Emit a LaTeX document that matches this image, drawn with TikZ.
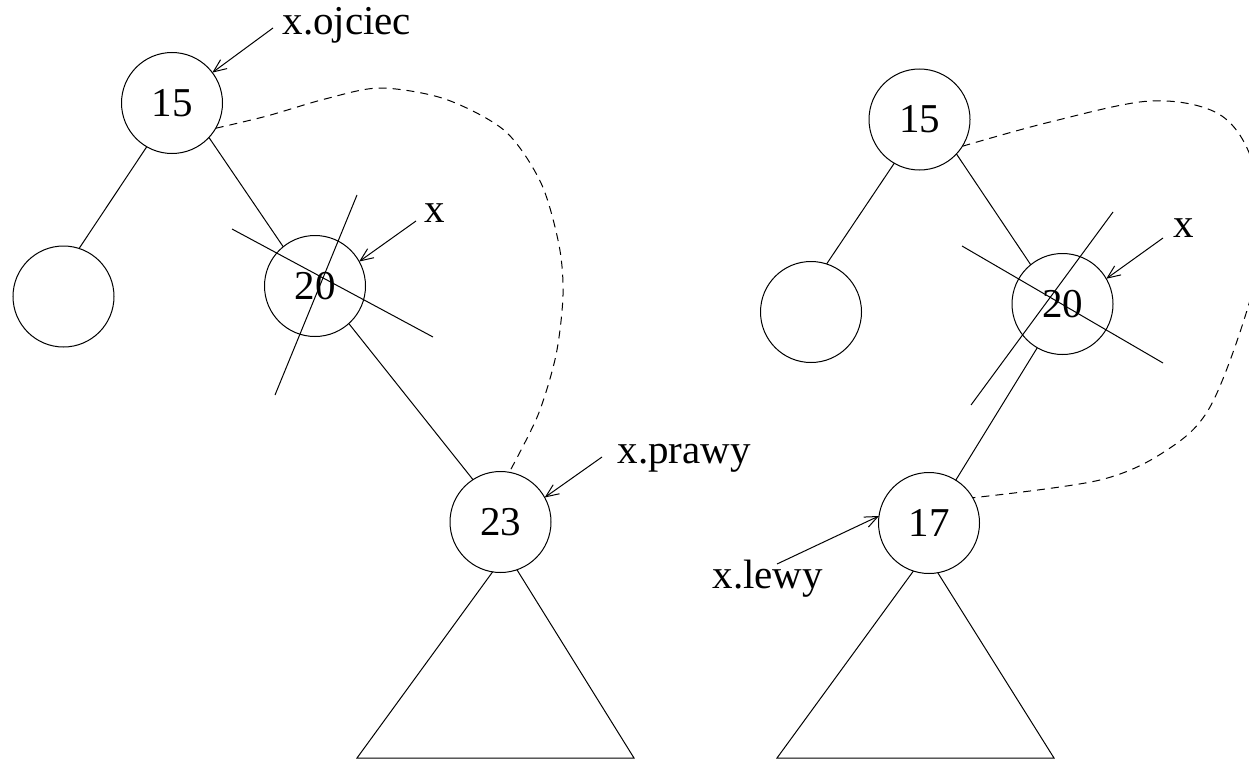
\documentclass[tikz,border=0pt]{standalone}
\usepackage{fontspec}
\setmainfont{Liberation Serif}
\usetikzlibrary{arrows.meta}
\tikzset{
  treenode/.style={circle, draw, minimum size=101pt, inner sep=0pt, outer sep=0pt,
                   font=\fontsize{41}{41}\selectfont},
  tag/.style={anchor=base west, inner sep=0pt, font=\fontsize{41}{41}\selectfont},
  pointer/.style={-{Straight Barb[length=13pt,width=11pt,line width=1pt]}},
  link/.style={dash pattern=on 8pt off 6pt},
}
\begin{document}
\begin{tikzpicture}[x=1pt, y=-1pt, line width=1pt]
\useasboundingbox (0,0) rectangle (1249,760);
\begin{scope}
\clip (0,0) rectangle (1249,760);

% ---------- left tree: before deletion ----------
\node[treenode] (a15) at (172,103) {15};
\node[treenode] (aL)  at (63.5,296.5) {};
\node[treenode] (a20) at (315,286) {20};
\node[treenode] (a23) at (500.5,522) {23};

\draw (a15.240) -- (aL.72);
\draw (a15.317) -- (a20.129);
\draw (a20.312) -- (a23.123);

% crossed-out node 20
\draw (232,229) -- (433,337);
\draw (357,195) -- (275,395);

% subtree under 23
\coordinate (aBL) at (357,758);
\coordinate (aBR) at (634,758);
\draw (a23.261) -- (aBL) -- (aBR) -- (a23.289);

% new link 15 -> 23
\draw[link] plot[smooth, tension=0.5] coordinates
  {(a15.330) (267,116) (325,99) (380,88) (445,99) (505,131) (541,183) (559,245)
   (563,295) (556,355) (538,415) (a23.80)};

% labels and pointers
\node[tag] (lojc) at (282,35) {x.ojciec};
\coordinate (tojc) at (273,28);
\draw[pointer] (tojc) -- (a15.37);

\node[tag] (lx1) at (424,222) {x};
\coordinate (tx1) at (416,221);
\draw[pointer] (tx1) -- (a20.29);

\node[tag] (lpr) at (617,463) {x.prawy};
\coordinate (tpr) at (602,457);
\draw[pointer] (tpr) -- (a23.29);

% ---------- right tree: before deletion ----------
\node[treenode] (b15) at (919.5,119.5) {15};
\node[treenode] (bL)  at (811,312) {};
\node[treenode] (b20) at (1062.5,304) {20};
\node[treenode] (b17) at (929,523) {17};

\draw (b15.240) -- (bL.72);
\draw (b15.317) -- (b20.129);
\draw (b20.240) -- (b17.58);

% crossed-out node 20
\draw (962,246) -- (1163,363);
\draw (1113,212) -- (971,405);

% subtree under 17
\coordinate (bBL) at (777,758);
\coordinate (bBR) at (1054,758);
\draw (b17.252) -- (bBL) -- (bBR) -- (b17.280);

% new link 15 -> 17
\draw[link] plot[smooth, tension=0.55] coordinates
  {(b15.328) (1050,122) (1150,101) (1217,113) (1250,155) (1263,230) (1248,307)
   (1210,407) (1167,450) (1100,480) (b17.30)};

% labels and pointers
\node[tag] (lx2) at (1173,237) {x};
\coordinate (tx2) at (1163,238);
\draw[pointer] (tx2) -- (b20.30);

\node[tag] (llw) at (712,588) {x.lewy};
\coordinate (tlw) at (777,564);
\draw[pointer] (tlw) -- (b17.172);
\end{scope}
\end{tikzpicture}
\end{document}
